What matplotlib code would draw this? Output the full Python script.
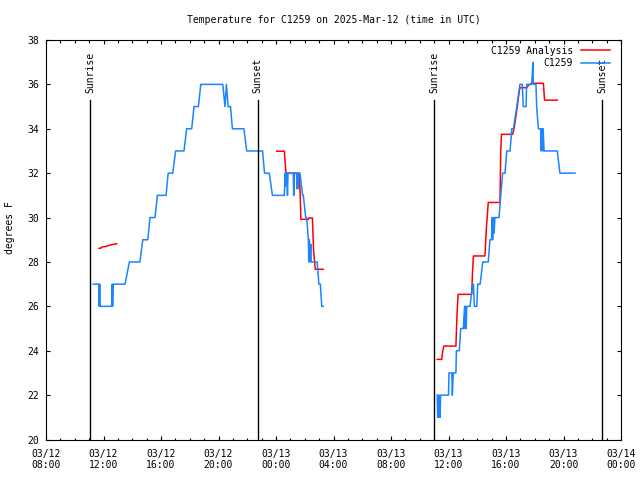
import matplotlib
matplotlib.use("Agg")
import matplotlib.pyplot as plt
import matplotlib.dates as mdates
import pandas as pd

# ---------------- data ----------------
# observed station temperature (C1259), night/day segments
blue1_times = ["03-12 11:17", "03-12 11:40", "03-12 11:42", "03-12 11:44", "03-12 11:46", "03-12 11:48",
               "03-12 12:34", "03-12 12:36", "03-12 12:38", "03-12 12:41", "03-12 13:30", "03-12 13:48",
               "03-12 14:32", "03-12 14:44", "03-12 15:05", "03-12 15:14", "03-12 15:35", "03-12 15:45",
               "03-12 16:21", "03-12 16:30", "03-12 16:49", "03-12 17:01", "03-12 17:36", "03-12 17:47",
               "03-12 18:08", "03-12 18:18", "03-12 18:36", "03-12 18:46", "03-12 20:18", "03-12 20:27",
               "03-12 20:33", "03-12 20:40", "03-12 20:50", "03-12 20:58", "03-12 21:46", "03-12 21:58",
               "03-12 23:04", "03-12 23:12", "03-12 23:32", "03-12 23:45",
               "03-13 00:35", "03-13 00:38", "03-13 00:39", "03-13 00:41", "03-13 00:45", "03-13 00:48",
               "03-13 00:50", "03-13 01:12", "03-13 01:14", "03-13 01:17", "03-13 01:26", "03-13 01:28",
               "03-13 01:30", "03-13 01:33", "03-13 01:35", "03-13 01:40", "03-13 01:51", "03-13 01:54",
               "03-13 02:04", "03-13 02:08", "03-13 02:15", "03-13 02:17", "03-13 02:19", "03-13 02:22",
               "03-13 02:25", "03-13 02:27", "03-13 02:52", "03-13 02:59", "03-13 03:05", "03-13 03:11",
               "03-13 03:17"]
blue1_vals = [27, 27, 26, 27, 26, 26,
              26, 27, 26, 27, 27, 28,
              28, 29, 29, 30, 30, 31,
              31, 32, 32, 33, 33, 34,
              34, 35, 35, 36, 36, 35,
              36, 35, 35, 34, 34, 33,
              33, 32, 32, 31,
              31, 32, 31.4, 32, 32, 31,
              32, 32, 31, 32, 32, 31.3,
              32, 31.3, 32, 32, 31, 31,
              30, 30, 29, 28, 29, 28,
              28.8, 28, 28, 27, 27, 26,
              26]

blue2_times = ["03-13 11:13", "03-13 11:15", "03-13 11:17", "03-13 11:20", "03-13 11:22", "03-13 11:25",
               "03-13 11:27", "03-13 12:00", "03-13 12:02", "03-13 12:14", "03-13 12:16", "03-13 12:20",
               "03-13 12:31", "03-13 12:33", "03-13 12:45", "03-13 12:51", "03-13 13:02", "03-13 13:07",
               "03-13 13:09", "03-13 13:12", "03-13 13:14", "03-13 13:16", "03-13 13:30", "03-13 13:40",
               "03-13 13:44", "03-13 13:48", "03-13 13:58", "03-13 14:02", "03-13 14:12", "03-13 14:23",
               "03-13 14:46", "03-13 14:53", "03-13 15:00", "03-13 15:02", "03-13 15:04", "03-13 15:08",
               "03-13 15:10", "03-13 15:14", "03-13 15:31", "03-13 15:38", "03-13 15:46", "03-13 15:56",
               "03-13 16:03", "03-13 16:17", "03-13 16:24", "03-13 16:31", "03-13 16:45", "03-13 16:58",
               "03-13 17:08", "03-13 17:12", "03-13 17:24", "03-13 17:26", "03-13 17:47", "03-13 17:50",
               "03-13 17:52", "03-13 17:54", "03-13 18:05", "03-13 18:08", "03-13 18:15", "03-13 18:25",
               "03-13 18:27", "03-13 18:29", "03-13 18:33", "03-13 18:35", "03-13 18:39", "03-13 19:34",
               "03-13 19:45", "03-13 20:48"]
blue2_vals = [22, 21, 22, 21, 22, 21,
              22, 22, 23, 23, 22, 23,
              23, 24, 24, 25, 25, 26,
              25, 26, 25, 26, 26, 27,
              27, 26, 26, 27, 27, 28,
              28, 29, 29, 30, 29, 30,
              29.3, 30, 30, 31, 32, 32,
              33, 33, 34, 34, 35, 36,
              36, 35, 35, 36, 36, 36.5,
              37, 36, 36, 35, 34, 34,
              33, 34, 33, 34, 33, 33,
              32, 32]

# model analysis (C1259 Analysis)
red1_times = ["03-12 11:41", "03-12 11:50", "03-12 11:52", "03-12 12:10", "03-12 12:25", "03-12 12:40",
              "03-12 12:55"]
red1_vals = [28.61, 28.63, 28.67, 28.70, 28.75, 28.79, 28.82]

red2_times = ["03-13 00:03", "03-13 00:35", "03-13 00:41", "03-13 00:45", "03-13 01:37", "03-13 01:41",
              "03-13 01:44", "03-13 02:15", "03-13 02:17", "03-13 02:32", "03-13 02:37", "03-13 02:44",
              "03-13 03:17"]
red2_vals = [32.99, 32.99, 32.05, 32.0, 32.0, 31.0,
             29.92, 29.92, 29.98, 29.98, 28.5, 27.67,
             27.67]

red3_times = ["03-13 11:13", "03-13 11:32", "03-13 11:36", "03-13 11:41", "03-13 12:31", "03-13 12:35",
              "03-13 12:40", "03-13 13:37", "03-13 13:40", "03-13 13:44", "03-13 14:32", "03-13 14:38",
              "03-13 14:46", "03-13 15:35", "03-13 15:38", "03-13 15:41", "03-13 16:28", "03-13 16:35",
              "03-13 16:47", "03-13 16:54", "03-13 16:58", "03-13 17:26", "03-13 17:35", "03-13 17:47",
              "03-13 18:36", "03-13 18:41", "03-13 19:34"]
red3_vals = [23.61, 23.61, 24.0, 24.21, 24.21, 25.5,
             26.54, 26.54, 27.5, 28.27, 28.27, 29.5,
             30.68, 30.68, 33.0, 33.75, 33.75, 34.09,
             34.99, 35.59, 35.85, 35.85, 35.97, 36.05,
             36.05, 35.29, 35.29]

sun_times = ["03-12 11:04", "03-12 22:43", "03-13 11:00", "03-13 22:41"]
sun_labels = ["Sunrise", "Sunset", "Sunrise", "Sunset"]

title = "Temperature for C1259 on 2025-Mar-12 (time in UTC)"
ylabel = "degrees F"
series_labels = ["C1259 Analysis", "C1259"]
x_start, x_end = "03-12 08:00", "03-14 00:00"
y_min, y_max, y_step = 20, 38, 2


def ts(lst):
    return pd.to_datetime(["2025-" + s for s in lst], format="%Y-%m-%d %H:%M")


# ---------------- drawing ----------------
mono = "DejaVu Sans Mono"
fs = 7
red = "#ff0000"
blue = "#1a85ff"

fig = plt.figure(figsize=(6.4, 4.8), dpi=100)
ax = fig.add_axes([46 / 640, 1 - 439.5 / 480, 575 / 640, 399.5 / 480])

ax.plot(ts(red1_times), red1_vals, color=red, lw=1.1, label=series_labels[0])
ax.plot(ts(red2_times), red2_vals, color=red, lw=1.1)
ax.plot(ts(red3_times), red3_vals, color=red, lw=1.1)
ax.plot(ts(blue1_times), blue1_vals, color=blue, lw=1.1, label=series_labels[1])
ax.plot(ts(blue2_times), blue2_vals, color=blue, lw=1.1)

for t, lab in zip(ts(sun_times), sun_labels):
    ax.plot([t, t], [y_min, 35.3], color="black", lw=1.0)
    ax.text(t, 35.6, lab, rotation=90, ha="center", va="bottom",
            fontsize=fs, family=mono)

ax.set_xlim(ts([x_start])[0], ts([x_end])[0])
ax.set_ylim(y_min, y_max)
ax.set_yticks(range(y_min, y_max + 1, y_step))
ax.xaxis.set_major_locator(mdates.HourLocator(byhour=[0, 4, 8, 12, 16, 20]))
ax.xaxis.set_minor_locator(mdates.HourLocator())
ax.xaxis.set_major_formatter(mdates.DateFormatter("%m/%d\n%H:%M"))

ax.tick_params(which="both", direction="in", top=True, right=True, width=0.8, color="black")
ax.tick_params(which="major", length=3)
ax.tick_params(which="minor", length=1.8)
ax.tick_params(axis="x", which="major", pad=6.5)
ax.tick_params(axis="y", which="major", pad=5)
for lab in ax.get_xticklabels() + ax.get_yticklabels():
    lab.set_fontfamily(mono)
    lab.set_fontsize(fs)
for sp in ax.spines.values():
    sp.set_linewidth(0.8)

fig.text(333.5 / 640, 1 - 20 / 480, title, ha="center", va="center", fontsize=fs, family=mono)
fig.text(10 / 640, 1 - 227.5 / 480, ylabel, ha="center", va="center", rotation=90,
         fontsize=fs, family=mono)

leg = ax.legend(loc="upper right", bbox_to_anchor=((610 - 46) / 575, (439.5 - 45.5) / 399.5),
                frameon=False, markerfirst=False, prop={"family": mono, "size": fs},
                handlelength=3.0, handletextpad=0.8, labelspacing=0.3, borderpad=0,
                borderaxespad=0)

fig.savefig("out.png", dpi=100)
